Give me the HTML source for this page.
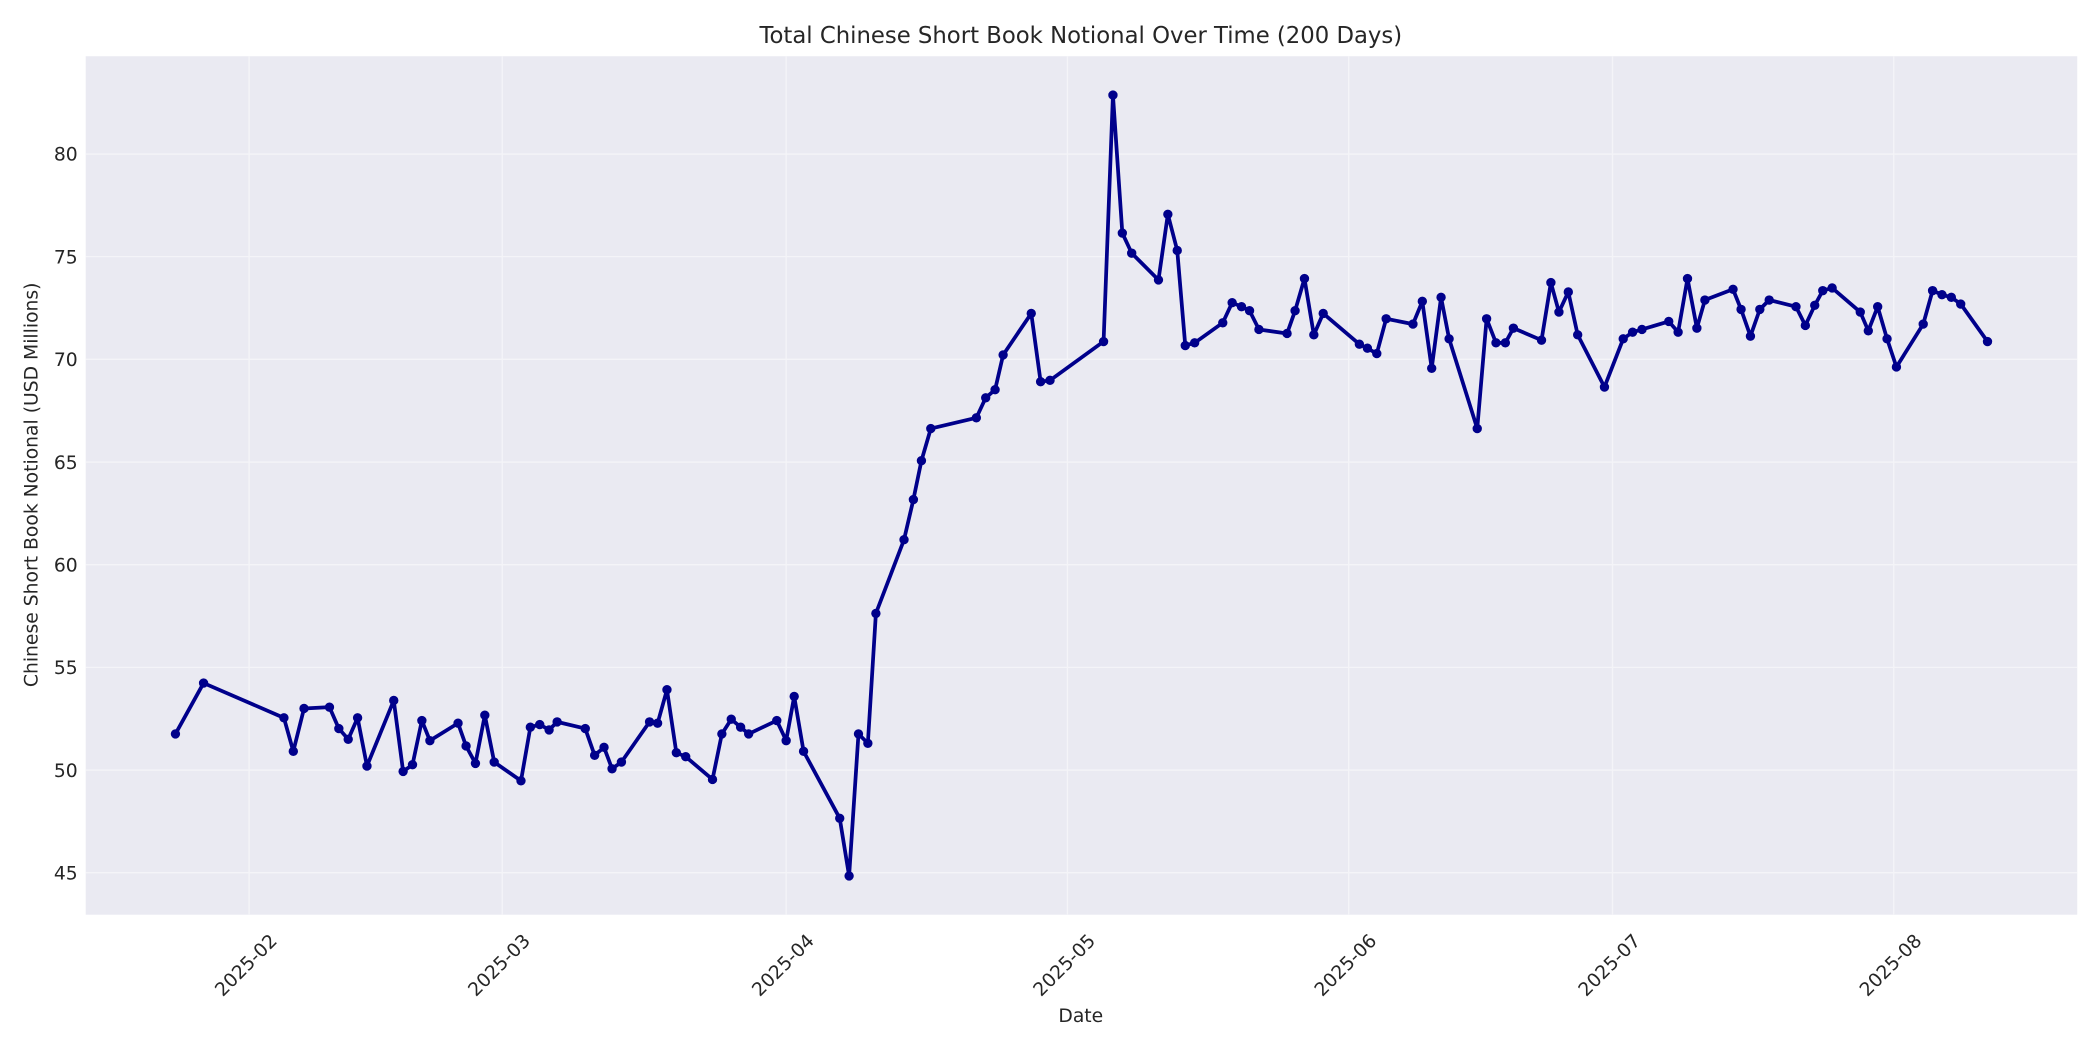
<!DOCTYPE html>
<html><head><meta charset="utf-8"><style>
html,body{margin:0;padding:0;background:#fff;}
svg{display:block;font-family:"DejaVu Sans","Liberation Sans",sans-serif;}
</style></head><body>
<svg width="2100" height="1050" viewBox="0 0 1568 784" xmlns="http://www.w3.org/2000/svg">
<rect x="0" y="0" width="1568" height="784" fill="#fff"/>
<rect x="64" y="42" width="1487" height="641" fill="#eaeaf2"/>
<g stroke="#f4f4f8" stroke-width="1">
<line x1="64" x2="1551" y1="115" y2="115"/><line x1="64" x2="1551" y1="191.6" y2="191.6"/>
<line x1="64" x2="1551" y1="268.3" y2="268.3"/><line x1="64" x2="1551" y1="345" y2="345"/>
<line x1="64" x2="1551" y1="421.6" y2="421.6"/><line x1="64" x2="1551" y1="498.3" y2="498.3"/>
<line x1="64" x2="1551" y1="575" y2="575"/><line x1="64" x2="1551" y1="651.6" y2="651.6"/>
<line y1="42" y2="683" x1="186" x2="186"/><line y1="42" y2="683" x1="375" x2="375"/>
<line y1="42" y2="683" x1="587" x2="587"/><line y1="42" y2="683" x1="797" x2="797"/>
<line y1="42" y2="683" x1="1007" x2="1007"/><line y1="42" y2="683" x1="1204" x2="1204"/>
<line y1="42" y2="683" x1="1414" x2="1414"/>
</g>
<g font-size="14" fill="#262626" text-anchor="end">
<text x="58" y="120">80</text><text x="58" y="196.6">75</text><text x="58" y="273.3">70</text>
<text x="58" y="350">65</text><text x="58" y="426.6">60</text><text x="58" y="503.3">55</text>
<text x="58" y="580">50</text><text x="58" y="656.6">45</text>
</g>
<g font-size="14" fill="#262626" text-anchor="middle">
<text transform="translate(187,724) rotate(-45)">2025-02</text>
<text transform="translate(376,724) rotate(-45)">2025-03</text>
<text transform="translate(588,724) rotate(-45)">2025-04</text>
<text transform="translate(798,724) rotate(-45)">2025-05</text>
<text transform="translate(1008,724) rotate(-45)">2025-06</text>
<text transform="translate(1205,724) rotate(-45)">2025-07</text>
<text transform="translate(1415,724) rotate(-45)">2025-08</text>
</g>
<text x="807" y="763" font-size="14" fill="#262626" text-anchor="middle">Date</text>
<text transform="translate(28,362) rotate(-90)" font-size="14" fill="#262626" text-anchor="middle">Chinese Short Book Notional (USD Millions)</text>
<text x="807" y="32" font-size="17" fill="#262626" text-anchor="middle">Total Chinese Short Book Notional Over Time (200 Days)</text>
<polyline fill="none" stroke="#00008b" stroke-width="2.8" stroke-linejoin="round" points="131,548 152,510 212,536 219,561 227,529 246,528 253,544 260,552 267,536 274,572 294,523 301,576 308,571 315,538 321,553 342,540 348,557 355,570 362,534 369,569 389,583 396,543 403,541 410,545 416,539 437,544 444,564 451,558 457,574 464,569 485,539 491,540 498,515 505,562 512,565 532,582 539,548 546,537 553,543 559,548 580,538 587,553 593,520 600,561 627,611 634,654 641,548 648,555 654,458 675,403 682,373 688,344 695,320 729,312 736,297 743,291 749,265 770,234 777,285 784,284 824,255 831,71 838,174 845,189 865,209 872,160 879,187 885,258 892,256 913,241 920,226 927,229 933,232 940,246 961,249 967,232 974,208 981,250 988,234 1015,257 1021,260 1028,264 1035,238 1055,242 1062,225 1069,275 1076,222 1082,253 1103,320 1110,238 1117,256 1124,256 1130,245 1151,254 1158,211 1164,233 1171,218 1178,250 1198,289 1212,253 1219,248 1226,246 1246,240 1253,248 1260,208 1267,245 1273,224 1294,216 1300,231 1307,251 1314,231 1321,224 1341,229 1348,243 1355,228 1361,217 1368,215 1389,233 1395,247 1402,229 1409,253 1416,274 1436,242 1443,217 1450,220 1457,222 1464,227 1484,255"/>
<path fill="none" stroke="#00008b" stroke-width="7" stroke-linecap="round" d="M131,548h0M152,510h0M212,536h0M219,561h0M227,529h0M246,528h0M253,544h0M260,552h0M267,536h0M274,572h0M294,523h0M301,576h0M308,571h0M315,538h0M321,553h0M342,540h0M348,557h0M355,570h0M362,534h0M369,569h0M389,583h0M396,543h0M403,541h0M410,545h0M416,539h0M437,544h0M444,564h0M451,558h0M457,574h0M464,569h0M485,539h0M491,540h0M498,515h0M505,562h0M512,565h0M532,582h0M539,548h0M546,537h0M553,543h0M559,548h0M580,538h0M587,553h0M593,520h0M600,561h0M627,611h0M634,654h0M641,548h0M648,555h0M654,458h0M675,403h0M682,373h0M688,344h0M695,320h0M729,312h0M736,297h0M743,291h0M749,265h0M770,234h0M777,285h0M784,284h0M824,255h0M831,71h0M838,174h0M845,189h0M865,209h0M872,160h0M879,187h0M885,258h0M892,256h0M913,241h0M920,226h0M927,229h0M933,232h0M940,246h0M961,249h0M967,232h0M974,208h0M981,250h0M988,234h0M1015,257h0M1021,260h0M1028,264h0M1035,238h0M1055,242h0M1062,225h0M1069,275h0M1076,222h0M1082,253h0M1103,320h0M1110,238h0M1117,256h0M1124,256h0M1130,245h0M1151,254h0M1158,211h0M1164,233h0M1171,218h0M1178,250h0M1198,289h0M1212,253h0M1219,248h0M1226,246h0M1246,240h0M1253,248h0M1260,208h0M1267,245h0M1273,224h0M1294,216h0M1300,231h0M1307,251h0M1314,231h0M1321,224h0M1341,229h0M1348,243h0M1355,228h0M1361,217h0M1368,215h0M1389,233h0M1395,247h0M1402,229h0M1409,253h0M1416,274h0M1436,242h0M1443,217h0M1450,220h0M1457,222h0M1464,227h0M1484,255h0"/>
</svg>
</body></html>
